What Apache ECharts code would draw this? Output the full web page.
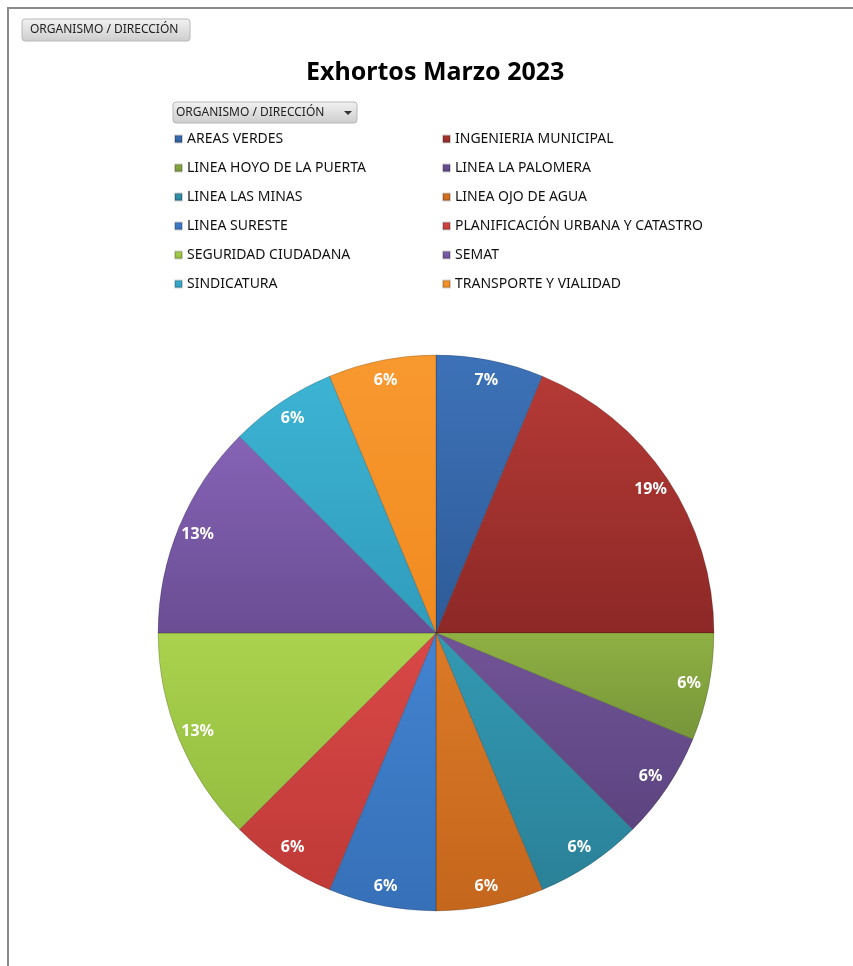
<!DOCTYPE html>
<html>
<head>
<meta charset="utf-8">
<script src="https://cdn.jsdelivr.net/npm/echarts@6/dist/echarts.min.js"></script>
<style>
html,body{margin:0;padding:0;background:#fff;}
#c{width:853px;height:966px;}
</style>
</head>
<body>
<div id="c"></div>
<script>
// ---- data ----
const titleText = 'Exhortos Marzo 2023';
const filterLabel = 'ORGANISMO / DIRECCIÓN';
const categories = [
  'AREAS VERDES', 'INGENIERIA MUNICIPAL', 'LINEA HOYO DE LA PUERTA', 'LINEA LA PALOMERA',
  'LINEA LAS MINAS', 'LINEA OJO DE AGUA', 'LINEA SURESTE', 'PLANIFICACIÓN URBANA Y CATASTRO',
  'SEGURIDAD CIUDADANA', 'SEMAT', 'SINDICATURA', 'TRANSPORTE Y VIALIDAD'
];
const values = [1, 3, 1, 1, 1, 1, 1, 1, 2, 2, 1, 1];

// ---- styles ----
const colorTop = ['#3D72B8','#B53A36','#8FB043','#715497','#3399B3','#DB7A27','#4383D0','#D84846','#AAD24E','#8563B6','#3DB3D3','#F8992F'];
const colorBot = ['#2E5B98','#8C2826','#76963A','#5C4480','#2A8198','#C4661C','#3670B8','#C03A38','#95BD40','#6A4D93','#309CBC','#F08A20'];

function grad(i){
  return new echarts.graphic.LinearGradient(0,0,0,1,[{offset:0,color:colorTop[i]},{offset:1,color:colorBot[i]}]);
}

const mainData = categories.map((n,i)=>({name:n, value:values[i], itemStyle:{color:grad(i)}}));
const labelData = categories.map((n,i)=>({name:n, value:values[i]}));

const leftNames = categories.filter((_,i)=>i%2===0);
const rightNames = categories.filter((_,i)=>i%2===1);

const FONT = 'Noto Sans';
const legendCommon = {
  orient:'vertical', top:131, padding:0, itemWidth:7, itemHeight:7, icon:'rect', itemGap:13,
  textStyle:{fontFamily:FONT, fontSize:14, color:'#111', lineHeight:16},
  selectedMode:false
};

const chart = echarts.init(document.getElementById('c'), null, {renderer:'canvas'});
chart.setOption({
  animation:false,
  backgroundColor:'#fff',
  title:{
    text:titleText, left:306, top:60, padding:0,
    textStyle:{fontFamily:FONT, fontSize:25, fontWeight:'bold', color:'#000'}
  },
  legend:[
    Object.assign({left:174, data:leftNames}, legendCommon),
    Object.assign({left:442, data:rightNames}, legendCommon)
  ],
  graphic:[
    {type:'rect', shape:{x:8,y:8,width:900,height:1000}, style:{fill:'none', stroke:'#8a8a8a', lineWidth:2}, silent:true, z:-10},
    {type:'rect', shape:{x:22,y:19,width:168,height:22,r:3},
     style:{fill:new echarts.graphic.LinearGradient(0,0,0,1,[{offset:0,color:'#f2f2f2'},{offset:1,color:'#cdcdcd'}]), stroke:'#b8b8b8', lineWidth:1}},
    {type:'text', x:30, y:30, style:{text:filterLabel, fontFamily:FONT, fontSize:12, fill:'#222', verticalAlign:'middle'}},
    {type:'rect', shape:{x:173,y:102,width:184,height:21,r:3},
     style:{fill:new echarts.graphic.LinearGradient(0,0,0,1,[{offset:0,color:'#f2f2f2'},{offset:1,color:'#cdcdcd'}]), stroke:'#b8b8b8', lineWidth:1}},
    {type:'text', x:176, y:113, style:{text:filterLabel, fontFamily:FONT, fontSize:12, fill:'#222', verticalAlign:'middle'}},
    {type:'polygon', shape:{points:[[344,111],[352,111],[348,115]]}, style:{fill:'#333'}}
  ],
  series:[
    {
      type:'pie', radius:[0,278], center:[436,633], startAngle:90, clockwise:true,
      data:mainData, label:{show:false}, labelLine:{show:false},
      itemStyle:{borderColor:'rgba(0,0,0,0.18)', borderWidth:1},
      emphasis:{disabled:true}, silent:true
    },
    {
      type:'pie', radius:[232,278], center:[436,633], startAngle:90, clockwise:true,
      percentPrecision:0,
      data:labelData,
      itemStyle:{color:'rgba(0,0,0,0)', borderWidth:0},
      label:{show:true, position:'inside', formatter:'{d}%', color:'#fff', fontFamily:FONT, fontSize:16, fontWeight:'bold'},
      labelLine:{show:false}, emphasis:{disabled:true}, silent:true, legendHoverLink:false
    }
  ]
});
</script>
</body>
</html>
